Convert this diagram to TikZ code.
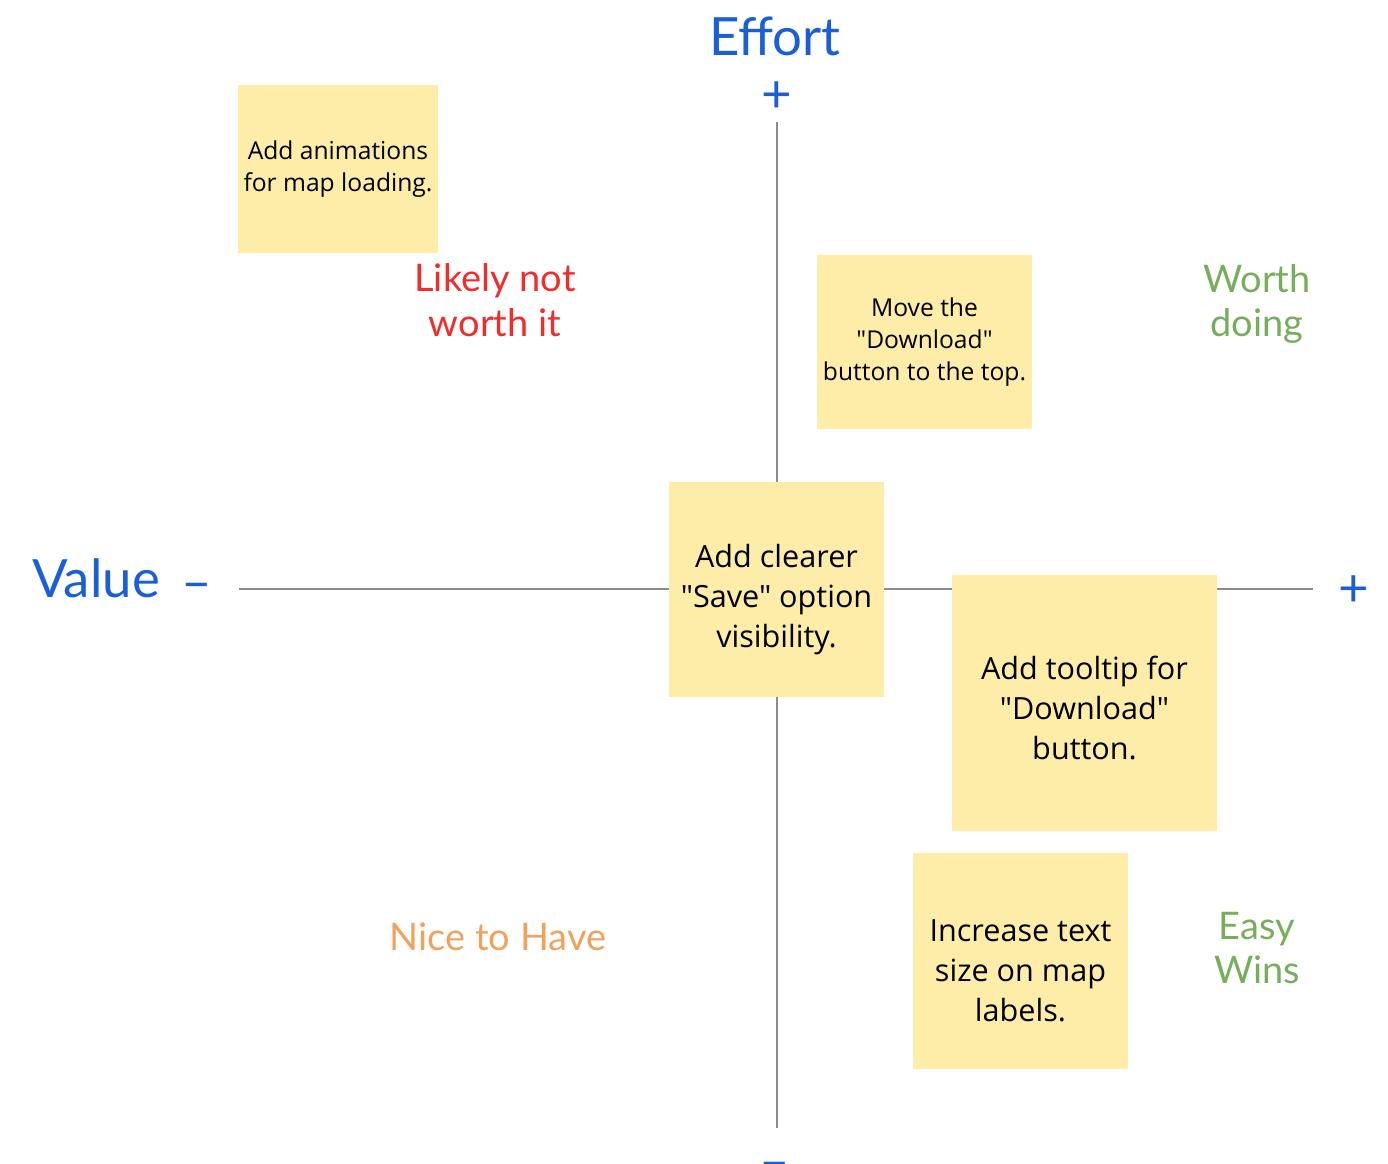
\documentclass[tikz,border=0pt]{standalone}
\usepackage{fontspec}
\newfontfamily\notefont{Open Sans}
\newfontfamily\labelfont{Lato}
\usepackage{tikz}

\definecolor{notefill}{HTML}{FDEDA9}
\definecolor{axisgray}{HTML}{8C8C8C}
\definecolor{axisblue}{HTML}{1B5FD8}
\definecolor{likelyred}{HTML}{F22B2B}
\definecolor{worthgreen}{HTML}{77AE5C}
\definecolor{niceorange}{HTML}{F2A15C}

\begin{document}
\begin{tikzpicture}[x=0.01cm,y=-0.01cm,
    note/.style={fill=notefill,inner sep=0pt,align=center,text=black},
    smallnote/.style={note,font=\notefont\fontsize{7}{9.1}\selectfont},
    bignote/.style={note,font=\notefont\fontsize{8.7}{11.4}\selectfont},
    axislabel/.style={text=axisblue,font=\labelfont\fontsize{15}{17}\selectfont},
    sign/.style={text=axisblue,font=\labelfont\fontsize{15}{17}\selectfont,inner sep=0pt},
    quadrant/.style={align=center,font=\labelfont\fontsize{10.8}{12.6}\selectfont}]
    \useasboundingbox (0,0) rectangle (1388,1163);

    \coordinate (top) at (777,122);
    \coordinate (bottom) at (777,1128);
    \coordinate (left) at (239,589);
    \coordinate (right) at (1313,589);
    \draw[axisgray,line width=0.6pt] (top) -- (bottom);
    \draw[axisgray,line width=0.6pt] (left) -- (right);

    \node[axislabel] (effort) at (775,36) {Effort};
    \node[axislabel] (value) at (96,578) {Value};
    \node[sign] (effortplus) at (777,97) {+};
    \node[sign] (effortminus) at (775,1171) {–};
    \node[sign] (valueplus) at (1354,591) {+};
    \node[sign] (valueminus) at (197,592) {–};

    \node[quadrant,text=likelyred] (likely) at (495,300) {Likely not\\worth it};
    \node[quadrant,text=worthgreen] (worth) at (1257,304) {Worth\\doing};
    \node[quadrant,text=niceorange] (nice) at (498,937) {Nice to Have};
    \node[quadrant,text=worthgreen] (easy) at (1257,948) {Easy\\Wins};

    \node[smallnote,minimum width=200*0.01cm,minimum height=168*0.01cm] (animations) at (338,169) {Add animations\\for map loading.};
    \node[smallnote,minimum width=215*0.01cm,minimum height=174*0.01cm] (movedownload) at (924.5,342) {Move the\\"Download"\\button to the top.};
    \node[bignote,minimum width=215*0.01cm,minimum height=215*0.01cm] (save) at (776.5,589.5) {\rule{0pt}{12.1pt}Add clearer\\"Save" option\\visibility.};
    \node[bignote,minimum width=265*0.01cm,minimum height=256*0.01cm] (tooltip) at (1084.5,703) {\rule{0pt}{9.3pt}Add tooltip for\\"Download"\\button.};
    \node[bignote,minimum width=215*0.01cm,minimum height=216*0.01cm] (textsize) at (1020.5,961) {\rule{0pt}{11.7pt}Increase text\\size on map\\labels.};
\end{tikzpicture}
\end{document}
